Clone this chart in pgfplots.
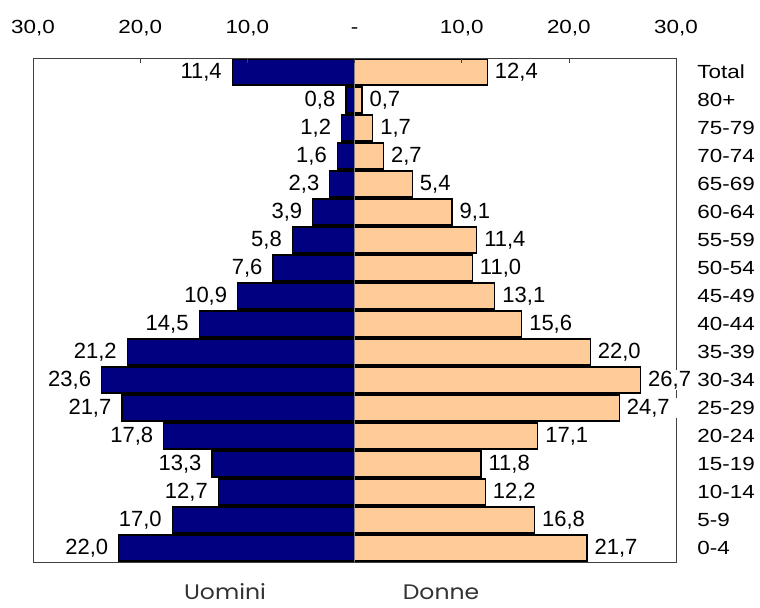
\documentclass[border=0pt]{standalone}
\usepackage{fontspec}
\setmainfont{Liberation Sans}[FakeStretch=1.18]
\newfontfamily\lab{Liberation Sans}
\newfontfamily\popp{Poppins}[FakeStretch=1.12]
\usepackage{pgfplots}
\usepackage{pgfplotstable}
\pgfplotsset{compat=1.18}
\definecolor{navyb}{HTML}{000080}
\definecolor{peach}{HTML}{FFCC99}
\pgfplotstableread{
y m f ml
17 -11.4 12.4 11.4
16 -0.8 0.7 0.8
15 -1.2 1.7 1.2
14 -1.6 2.7 1.6
13 -2.3 5.4 2.3
12 -3.9 9.1 3.9
11 -5.8 11.4 5.8
10 -7.6 11.0 7.6
9 -10.9 13.1 10.9
8 -14.5 15.6 14.5
7 -21.2 22.0 21.2
6 -23.6 26.7 23.6
5 -21.7 24.7 21.7
4 -17.8 17.1 17.8
3 -13.3 11.8 13.3
2 -12.7 12.2 12.7
1 -17.0 16.8 17.0
0 -22.0 21.7 22.0
}\data
\begin{document}
\fontsize{9.5}{11}\selectfont
\begin{tikzpicture}
\useasboundingbox (0,0) rectangle (380pt,304pt);
\begin{axis}[
  at={(16.5pt,23pt)}, anchor=south west,
  width=321.5pt, height=252pt, scale only axis,
  xmin=-30, xmax=30, ymin=-0.5, ymax=17.5,
  xbar, bar width=0.93, bar shift=0pt,
  clip=false,
  axis on top,
  axis line style={black!75},
  xtick={-30,-20,-10,0,10,20,30},
  xticklabels={{30,0},{20,0},{10,0},-,{10,0},{20,0},{30,0}},
  xticklabel pos=right, xtick pos=right, tick align=inside,
  major tick length=2.5pt,
  xticklabel style={anchor=base, yshift=12pt, font=\fontsize{9.5}{11}\selectfont},
  ytick={0,...,17},
  yticklabels={0-4,5-9,10-14,15-19,20-24,25-29,30-34,35-39,40-44,45-49,50-54,55-59,60-64,65-69,70-74,75-79,80+,Total},
  yticklabel pos=right, ytick style={draw=none},
  yticklabel style={anchor=west, inner sep=0pt, xshift=10.5pt, font=\fontsize{9.5}{11}\selectfont},
  tick style={black!75},
  every node near coord/.append style={fill=white, inner xsep=3.5pt, inner ysep=0.5pt, font=\lab\fontsize{11}{12}\selectfont},
]
\addplot[fill=navyb, draw=black, line width=0.6pt, nodes near coords={\pgfmathprintnumber[fixed,fixed zerofill,precision=1,use comma,assume math mode=true]{\pgfplotspointmeta}}, point meta=explicit, every node near coord/.append style={anchor=east, xshift=-1.5pt}] table[x=m, y=y, meta=ml] {\data};
\addplot[fill=peach, draw=black, line width=0.6pt, nodes near coords={\pgfmathprintnumber[fixed,fixed zerofill,precision=1,use comma,assume math mode=true]{\pgfplotspointmeta}}, point meta=explicit, every node near coord/.append style={anchor=west}] table[x=f, y=y, meta=f] {\data};
\draw[gray, line width=0.8pt] (axis cs:0,-0.5) -- (axis cs:0,17.5);
\draw[black!75] (axis cs:30,-0.5) -- (axis cs:30,17.5);
\end{axis}
\node[text=black!80, font=\popp\fontsize{10.5}{12}\selectfont] at (112.5pt,8pt) {Uomini};
\node[text=black!80, font=\popp\fontsize{10.5}{12}\selectfont] at (220.5pt,8pt) {Donne};
\end{tikzpicture}
\end{document}
